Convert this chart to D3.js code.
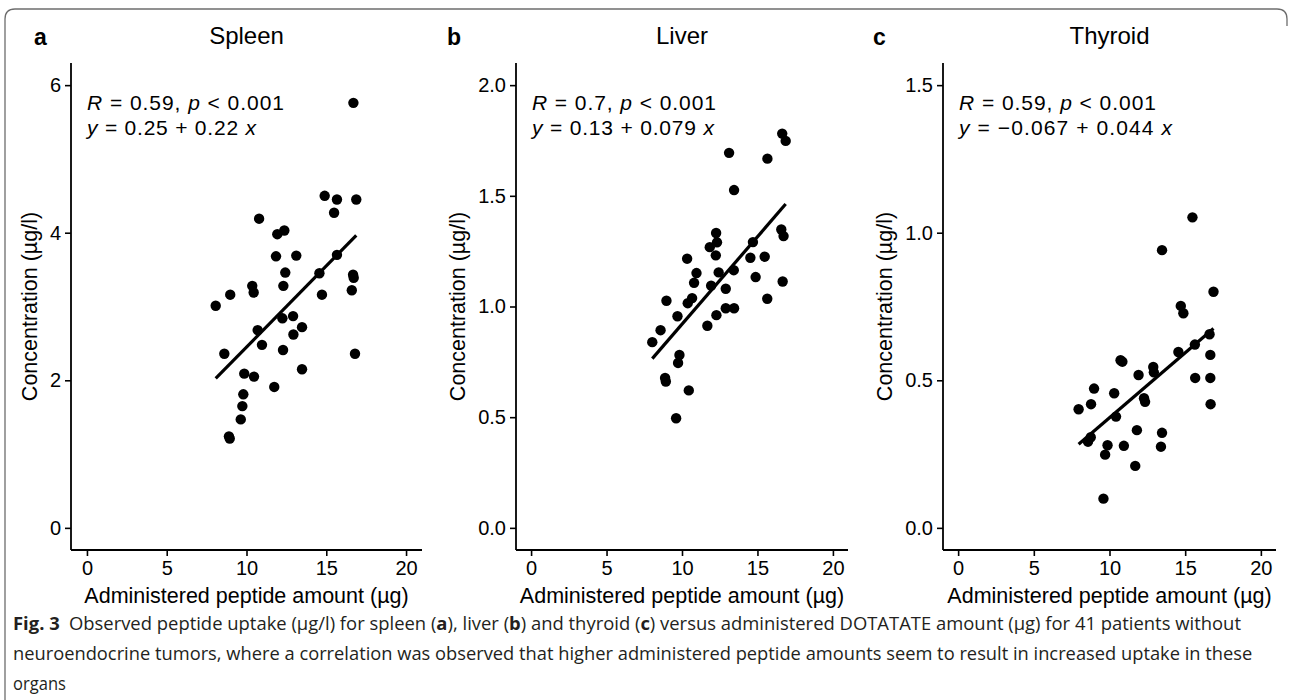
<!DOCTYPE html>
<html><head><meta charset="utf-8">
<script src="https://cdn.jsdelivr.net/npm/d3@7"></script>
<style>body{margin:0;background:#fff} svg{display:block}</style>
</head><body>
<svg id="chart" width="1290" height="700"></svg>
<script>
// ---------- data ----------
const xTicks = [0, 5, 10, 15, 20];

const spleenX = [10.79,11.93,12.37,11.85,13.12,12.43,12.31,10.36,10.45,8.98,8.07,14.57,15.67,14.73,16.68,16.72,16.6,16.8,12.25,12.92,13.48,12.94,10.70,10.97,12.29,13.48,8.61,9.86,10.47,11.74,9.80,9.74,9.64,8.90,8.95,14.9,15.67,16.88,15.49,16.7];
const spleenY = [4.19,3.98,4.03,3.68,3.69,3.46,3.28,3.28,3.19,3.16,3.01,3.45,3.70,3.16,3.43,3.39,3.22,2.36,2.84,2.87,2.72,2.62,2.68,2.48,2.41,2.15,2.36,2.09,2.05,1.91,1.81,1.65,1.47,1.24,1.21,4.50,4.45,4.45,4.27,5.76];

const liverX = [16.64,16.87,13.12,15.66,13.45,16.58,16.73,12.26,12.32,11.84,12.24,14.70,14.53,15.48,10.34,10.96,10.80,12.43,13.43,11.93,12.90,14.88,16.67,15.65,8.97,10.67,10.38,12.90,13.45,12.28,9.70,11.68,8.58,8.03,9.83,9.74,8.88,8.93,10.45,9.61];
const liverY = [1.781,1.748,1.694,1.668,1.526,1.348,1.318,1.332,1.290,1.268,1.231,1.291,1.220,1.225,1.216,1.151,1.107,1.154,1.164,1.094,1.080,1.133,1.113,1.035,1.026,1.038,1.015,0.992,0.992,0.961,0.956,0.913,0.893,0.839,0.781,0.745,0.677,0.661,0.621,0.495];

const thyroidX = [15.48,13.47,16.87,14.71,14.88,16.61,15.64,14.55,16.66,10.73,10.85,12.89,12.93,11.92,15.66,16.66,8.98,10.31,12.28,7.96,8.78,12.35,10.43,16.68,11.81,13.47,8.76,8.58,9.87,10.95,13.40,9.71,11.70,9.60];
const thyroidY = [1.052,0.941,0.800,0.752,0.727,0.656,0.621,0.596,0.586,0.568,0.563,0.545,0.527,0.518,0.508,0.508,0.472,0.456,0.439,0.402,0.419,0.427,0.377,0.419,0.331,0.322,0.307,0.292,0.280,0.278,0.275,0.248,0.210,0.099];

const organNames = ["Spleen", "Liver", "Thyroid"];
const panelLetters = ["a", "b", "c"];
const rValues = ["0.59", "0.7", "0.59"];
const pLabels = ["0.001", "0.001", "0.001"];
const intercepts = [0.25, 0.13, -0.067];
const slopes = [0.22, 0.079, 0.044];
const spleenTicks = [0, 2, 4, 6];
const liverTicks = [0.0, 0.5, 1.0, 1.5, 2.0];
const thyroidTicks = [0.0, 0.5, 1.0, 1.5];
const yTitle = "Concentration (\u00b5g/l)";
const xTitle = "Administered peptide amount (\u00b5g)";

// ---------- layout ----------
const svg = d3.select("#chart");
const FONT = "'Liberation Sans', Arial, Helvetica, sans-serif";
const plotTop = 63, plotBottom = 550;

svg.append("path")
  .attr("d", "M5,700 L5,19 Q5,9 15,9 L1277,9 Q1287,9 1287,19 L1287,26")
  .attr("fill", "none").attr("stroke", "#6d6d6d").attr("stroke-width", 1.3);

const panels = [
  {xs: spleenX, ys: spleenY, dom: [-0.3, 6.3], ticks: spleenTicks, fmt: d3.format("d"), left: 71, right: 422, ytx: 37, letterX: 34, w1: 197, w2: 169},
  {xs: liverX, ys: liverY, dom: [-0.1, 2.1], ticks: liverTicks, fmt: d3.format(".1f"), left: 516, right: 848, ytx: 465, letterX: 447, w1: 184, w2: 182},
  {xs: thyroidX, ys: thyroidY, dom: [-0.075, 1.575], ticks: thyroidTicks, fmt: d3.format(".1f"), left: 943, right: 1276, ytx: 892, letterX: 873, w1: 197, w2: 213}
];

panels.forEach((p, i) => {
  const g = svg.append("g");
  const x = d3.scaleLinear().domain([-1, 21]).range([p.left, p.right]);
  const y = d3.scaleLinear().domain(p.dom).range([plotBottom, plotTop]);

  const xa = g.append("g").attr("transform", `translate(0,${plotBottom})`)
    .call(d3.axisBottom(x).tickValues(xTicks).tickSize(6).tickPadding(5).tickFormat(d3.format("d")));
  const ya = g.append("g").attr("transform", `translate(${p.left},0)`)
    .call(d3.axisLeft(y).tickValues(p.ticks).tickSize(6).tickPadding(4).tickFormat(p.fmt));
  [xa, ya].forEach(a => {
    a.select(".domain").attr("stroke", "#000").attr("stroke-width", 1.8);
    a.selectAll(".tick line").attr("stroke", "#000").attr("stroke-width", 1.6);
    a.selectAll(".tick text").attr("fill", "#000").style("font-family", FONT).style("font-size", "20px");
  });
  xa.select(".domain").attr("d", `M${p.left},0H${p.right}`);
  ya.select(".domain").attr("d", `M0,${plotBottom}V${plotTop}`);

  const pts = p.xs.map((v, k) => [v, p.ys[k]]);
  g.append("g").selectAll("circle").data(pts).join("circle")
    .attr("cx", d => x(d[0])).attr("cy", d => y(d[1])).attr("r", 5.2).attr("fill", "#000");

  const ext = d3.extent(p.xs);
  const lineData = ext.map(v => [v, intercepts[i] + slopes[i] * v]);
  g.append("path").datum(lineData)
    .attr("d", d3.line().x(d => x(d[0])).y(d => y(d[1])))
    .attr("stroke", "#000").attr("stroke-width", 3.2).attr("fill", "none");

  const ax = p.left + 16;
  const t1 = g.append("text").attr("x", ax).attr("y", 110).style("font-family", FONT).style("font-size", "21px")
    .attr("textLength", p.w1).attr("lengthAdjust", "spacing");
  t1.append("tspan").style("font-style", "italic").text("R");
  t1.append("tspan").text(" = " + rValues[i] + ", ");
  t1.append("tspan").style("font-style", "italic").text("p");
  t1.append("tspan").text(" < " + pLabels[i]);
  const t2 = g.append("text").attr("x", ax).attr("y", 135).style("font-family", FONT).style("font-size", "21px")
    .attr("textLength", p.w2).attr("lengthAdjust", "spacing");
  t2.append("tspan").style("font-style", "italic").text("y");
  t2.append("tspan").text(" = " + String(intercepts[i]).replace("-", "\u2212") + " + " + slopes[i] + " ");
  t2.append("tspan").style("font-style", "italic").text("x");

  g.append("text").attr("x", (p.left + p.right) / 2).attr("y", 44).attr("text-anchor", "middle")
    .style("font-family", FONT).style("font-size", "24px").text(organNames[i]);
  g.append("text").attr("x", p.letterX).attr("y", 45)
    .style("font-family", FONT).style("font-size", "23px").style("font-weight", "bold").text(panelLetters[i]);
  g.append("text").attr("x", (p.left + p.right) / 2).attr("y", 603).attr("text-anchor", "middle")
    .style("font-family", FONT).style("font-size", "21.5px").text(xTitle);
  g.append("text").attr("transform", `translate(${p.ytx},${(plotTop + plotBottom) / 2}) rotate(-90)`).attr("text-anchor", "middle")
    .style("font-family", FONT).style("font-size", "21.5px").text(yTitle);
});

// ---------- caption ----------
const CAP = "'Open Sans', 'Noto Sans', sans-serif";
function capLine(y, target) {
  const t = svg.append("text").attr("x", 0).attr("y", 0)
    .style("font-family", CAP).style("font-size", "18px").attr("fill", "#231f20");
  t.fitTo = () => {
    const L = t.node().getComputedTextLength();
    const s = target ? target / L : 0.92;
    t.attr("transform", `translate(13,${y}) scale(${s},1)`);
  };
  return t;
}
const cap1 = capLine(630, 1229);
cap1.append("tspan").style("font-weight", "bold").text("Fig. 3");
cap1.append("tspan").text("\u2002Observed peptide uptake (\u00b5g/l) for spleen (");
cap1.append("tspan").style("font-weight", "bold").text("a");
cap1.append("tspan").text("), liver (");
cap1.append("tspan").style("font-weight", "bold").text("b");
cap1.append("tspan").text(") and thyroid (");
cap1.append("tspan").style("font-weight", "bold").text("c");
cap1.append("tspan").text(") versus administered DOTATATE amount (\u00b5g) for 41 patients without");
cap1.fitTo();
const cap2 = capLine(660, 1240);
cap2.text("neuroendocrine tumors, where a correlation was observed that higher administered peptide amounts seem to result in increased uptake in these");
cap2.fitTo();
const cap3 = capLine(690, 0);
cap3.text("organs");
cap3.fitTo();
</script>
</body></html>
